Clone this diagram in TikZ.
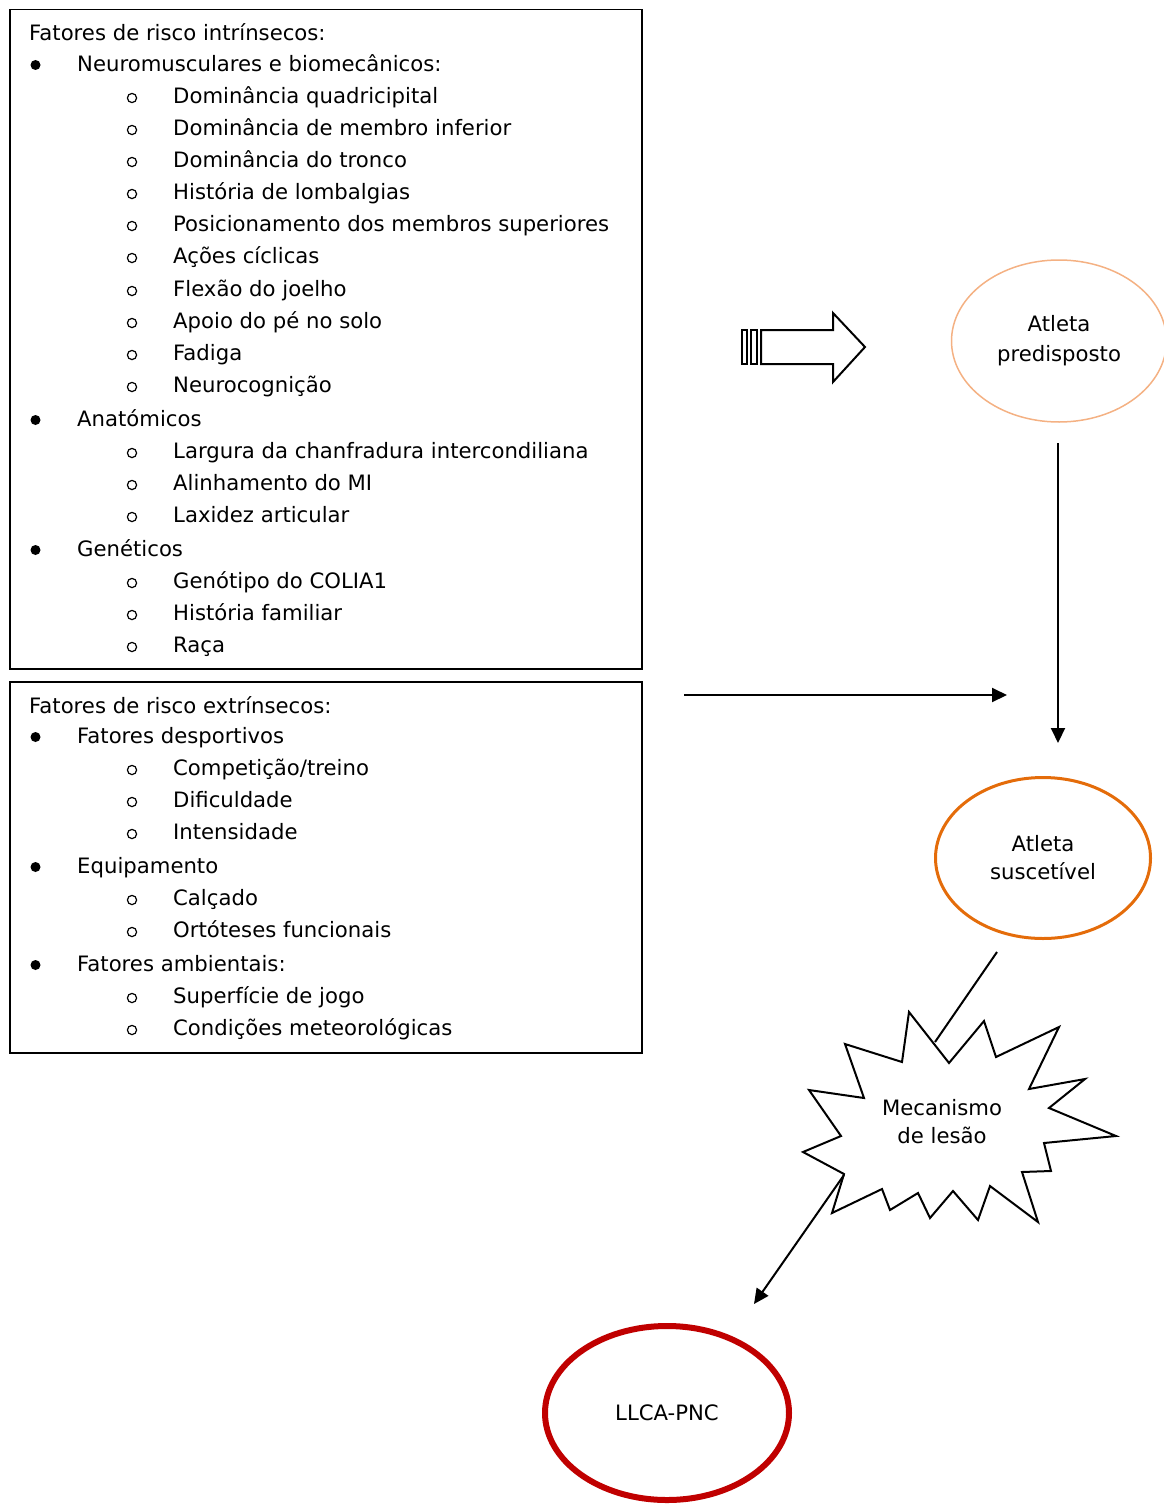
\documentclass[tikz,border=0pt]{standalone}
\usepackage{fontspec}
\setmainfont{DejaVu Sans}
\usetikzlibrary{arrows.meta,positioning,shapes.geometric}
\definecolor{orLight}{RGB}{244,177,131}
\definecolor{orDark}{RGB}{228,108,10}
\definecolor{redDark}{RGB}{192,0,0}

\begin{document}
\begin{tikzpicture}[x=1pt,y=-1pt,
  font=\fontsize{21.2}{30}\selectfont,
  txt/.style={anchor=base west,inner sep=0pt},
  box/.style={draw,line width=1.5pt,anchor=north west,inner sep=0pt},
  ell/.style={ellipse,draw,align=center,inner sep=0pt},
  arr/.style={line width=2pt,-{Triangle[length=15pt,width=14pt]}}]
  \useasboundingbox (0,0) rectangle (1164,1504);
  \node[box,minimum width=632pt,minimum height=659pt] (intr) at (9,9) {};
  \node[box,minimum width=632pt,minimum height=371pt] (extr) at (9,681) {};
  \node[txt] (hi) at (29,41) {Fatores de risco intrínsecos:};
  \node[txt] (he) at (29,713) {Fatores de risco extrínsecos:};
  \foreach \y/\t [count=\k] in {71/Neuromusculares e biomecânicos:,426/Anatómicos,556/Genéticos,
      743/Fatores desportivos,873/Equipamento,971/Fatores ambientais:} {
    \fill (35.5,\y-6) circle (5pt);
    \node[txt] (a\k) at (77,\y) {\t};
  }
  \foreach \y/\t [count=\k] in {103/Dominância quadricipital,135/Dominância de membro inferior,
      167/Dominância do tronco,199/História de lombalgias,231/Posicionamento dos membros superiores,
      263/Ações cíclicas,296/Flexão do joelho,328/Apoio do pé no solo,360/Fadiga,392/Neurocognição,
      458/Largura da chanfradura intercondiliana,490/Alinhamento do MI,522/Laxidez articular,
      588/Genótipo do COLIA1,620/História familiar,652/Raça,
      775/{Competição/treino},807/Dificuldade,839/Intensidade,905/Calçado,937/Ortóteses funcionais,
      1003/Superfície de jogo,1035/Condições meteorológicas} {
    \draw[line width=1.2pt] (132,\y-5) circle (4.6pt);
    \node[txt] (b\k) at (173,\y) {\t};
  }
  \draw[line width=2pt] (761,330) -- (833,330) -- (833,313) -- (865,347) -- (833,382) -- (833,364) -- (761,364) -- cycle;
  \draw[line width=2pt] (742,330) rectangle (747,364);
  \draw[line width=2pt] (751,330) rectangle (757,364);
  \node[ell,draw=orLight,line width=1.5pt,minimum width=215pt,minimum height=162pt] (pred) at (1059,341) {Atleta\\predisposto};
  \node[ell,draw=orDark,line width=3pt,minimum width=215pt,minimum height=161pt,
    font=\fontsize{21.2}{28}\selectfont] (susc) at (1043,858) {Atleta\\suscetível};
  \node[ell,draw=redDark,line width=6pt,minimum width=244pt,minimum height=174pt] (llca) at (667,1413) {LLCA-PNC};
  \coordinate (hA) at (684,695);
  \coordinate (hB) at (1007,695);
  \coordinate (vA) at (1058,443);
  \coordinate (vB) at (1058,743);
  \draw[arr] (hA) -- (hB);
  \draw[arr] (vA) -- (vB);
  \draw[line width=2pt] (909,1012) -- (949,1063) -- (984,1021) -- (996,1057) -- (1059,1027) -- (1029,1089)
    -- (1085,1079) -- (1049,1108) -- (1116,1136) -- (1044,1143) -- (1051,1171) -- (1022,1172) -- (1038,1222)
    -- (990,1186) -- (978,1220) -- (953,1191) -- (930,1218) -- (918,1193) -- (890,1210) -- (882,1189)
    -- (832,1213) -- (844,1174) -- (803,1152) -- (841,1136) -- (809,1090) -- (864,1098) -- (845,1044)
    -- (902,1062) -- cycle;
  \node[align=center,font=\fontsize{21.2}{28}\selectfont] (mec) at (942,1122) {Mecanismo\\de lesão};
  \coordinate (sA) at (997,952);
  \coordinate (sB) at (935,1042);
  \coordinate (mA) at (844,1175);
  \coordinate (mB) at (754,1304);
  \draw[line width=2pt] (sA) -- (sB);
  \draw[arr] (mA) -- (mB);
\end{tikzpicture}
\end{document}
